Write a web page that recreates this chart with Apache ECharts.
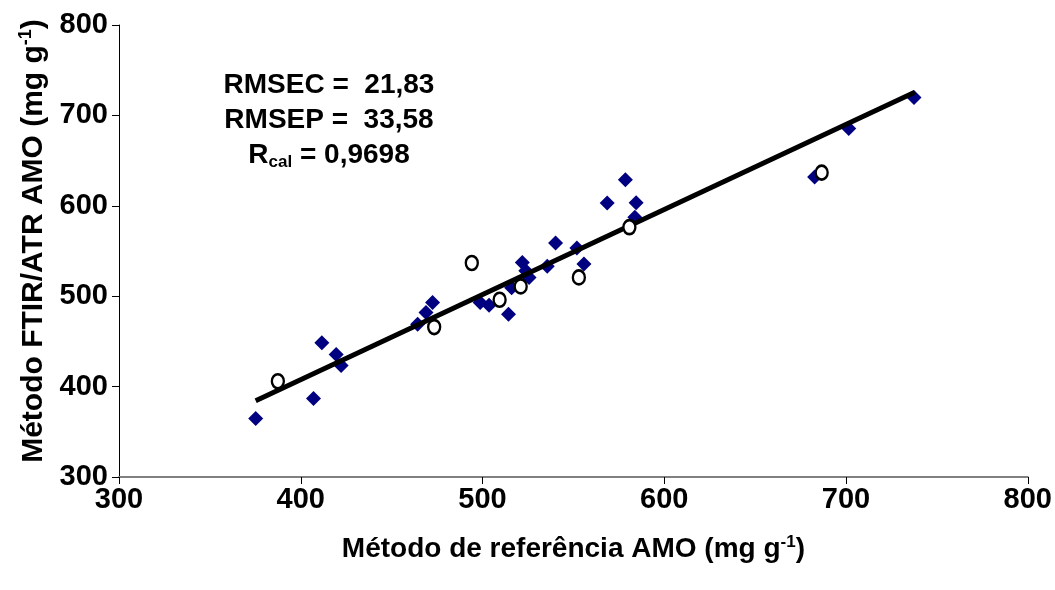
<!DOCTYPE html>
<html>
<head>
<meta charset="utf-8">
<script src="https://cdn.jsdelivr.net/npm/echarts@6/dist/echarts.min.js"></script>
<style>html,body{margin:0;padding:0;background:#fff}#c{width:1055px;height:590px}</style>
</head>
<body>
<div id="c"></div>
<script>
// Calibration set (diamonds)
const calX = [375.2, 407.0, 411.6, 419.5, 422.2, 464.3, 468.9, 472.5, 498.7, 503.6, 514.3, 516.0, 521.9, 523.8, 525.6, 535.6, 540.2, 551.9, 555.8, 568.6, 578.6, 584.5, 583.8, 682.7, 701.5, 737.4];
const calY = [364.8, 386.7, 448.6, 435.6, 423.3, 468.9, 481.9, 493.0, 493.0, 490.0, 480.0, 509.4, 537.4, 528.1, 520.8, 533.0, 558.9, 553.3, 535.6, 603.0, 628.9, 603.3, 587.4, 631.9, 685.6, 719.7];
// Prediction set (open circles)
const predX = [387.4, 473.4, 494.1, 509.4, 521.0, 553.0, 580.8, 686.6];
const predY = [405.9, 465.9, 536.7, 496.1, 510.8, 520.8, 576.3, 636.7];
// Regression line end points
const lineX = [375.2, 737.8];
const lineY = [384.4, 725.6];
const ticks = [300, 400, 500, 600, 700, 800];

const zip = (a, b) => a.map((v, i) => [v, b[i]]);
const font = '"Liberation Sans", Arial, sans-serif';
const FS = 28;

const chart = echarts.init(document.getElementById('c'));
chart.setOption({
  animation: false,
  backgroundColor: '#fff',
  grid: { left: 119, right: 25, top: 25, bottom: 113 },
  xAxis: {
    type: 'value', min: ticks[0], max: ticks[ticks.length - 1], interval: 100,
    axisLine: { lineStyle: { color: '#808080', width: 2 } },
    axisTick: { show: true, length: 7, lineStyle: { color: '#000' } },
    splitLine: { show: false },
    axisLabel: { color: '#000', fontFamily: font, fontWeight: 'bold', fontSize: 29, margin: 8 },
    name: '{a|Método de referência AMO (mg g}{s|-1}{a|)}',
    nameLocation: 'middle', nameGap: 57,
    nameTextStyle: {
      rich: {
        a: { fontFamily: font, fontWeight: 'bold', fontSize: FS, color: '#000' },
        s: { fontFamily: font, fontWeight: 'bold', fontSize: 17, color: '#000', verticalAlign: 'top', padding: [0, 0, 14, 0] }
      }
    }
  },
  yAxis: {
    type: 'value', min: ticks[0], max: ticks[ticks.length - 1], interval: 100,
    axisLine: { lineStyle: { color: '#000', width: 1 } },
    axisTick: { show: true, length: 7, lineStyle: { color: '#000' } },
    splitLine: { show: false },
    axisLabel: { color: '#000', fontFamily: font, fontWeight: 'bold', fontSize: 29, margin: 11 },
    name: '{a|Método FTIR/ATR AMO (mg g}{s|-1}{a|)}',
    nameLocation: 'middle', nameGap: 69, nameRotate: 90,
    nameTextStyle: {
      padding: [0, 0, 0, 20],
      rich: {
        a: { fontFamily: font, fontWeight: 'bold', fontSize: 30, color: '#000' },
        s: { fontFamily: font, fontWeight: 'bold', fontSize: 18, color: '#000', verticalAlign: 'top', padding: [0, 0, 15, 0] }
      }
    }
  },
  graphic: [{
    type: 'text',
    style: {
      x: 329, y: 68,
      text: '{a|RMSEC =  21,83}\n{a|RMSEP =  33,58}\n{a|R}{s|cal}{a| = 0,9698}',
      align: 'center', verticalAlign: 'top',
      rich: {
        a: { fontFamily: font, fontWeight: 'bold', fontSize: FS, color: '#000', lineHeight: 35 },
        s: { fontFamily: font, fontWeight: 'bold', fontSize: 17, color: '#000', lineHeight: 35, padding: [14, 0, 0, 0] }
      }
    }
  }],
  series: [
    {
      type: 'scatter', data: zip(calX, calY), symbol: 'diamond', symbolSize: 15,
      itemStyle: { color: '#000080', opacity: 1 }, z: 2
    },
    {
      type: 'line', data: zip(lineX, lineY), symbol: 'none',
      lineStyle: { color: '#000', width: 5 }, z: 3
    },
    {
      type: 'scatter', data: zip(predX, predY), symbol: 'circle', symbolSize: [12, 14],
      itemStyle: { color: '#fff', borderColor: '#000', borderWidth: 2.5, opacity: 1 }, z: 4
    }
  ]
});
</script>
</body>
</html>
